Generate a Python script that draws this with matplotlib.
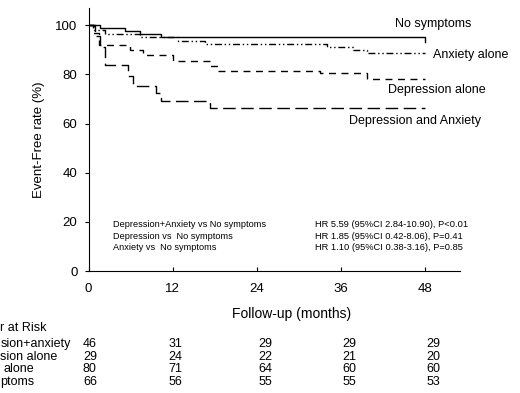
import matplotlib
matplotlib.use("Agg")
import matplotlib.pyplot as plt
import matplotlib.transforms as mtransforms

plt.rcParams['font.family'] = ['Liberation Sans', 'DejaVu Sans']

# Kaplan-Meier step curves (months, event-free %)
t_none = [0, 1.6, 5.2, 7.3, 10.4, 48]
s_none = [100, 99.0, 97.7, 96.3, 95.2, 93.0]

t_anx = [0, 0.8, 2.3, 7.3, 12.8, 16.6, 34, 37.8, 39.8, 48]
s_anx = [100, 98.0, 96.5, 95.2, 93.5, 92.5, 91.2, 89.8, 88.5, 88.5]

t_dep = [0, 0.6, 1.5, 5.9, 7.8, 12.0, 17.4, 18.5, 33, 39.8, 48]
s_dep = [100, 97.0, 92.0, 90.0, 88.0, 85.3, 83.3, 81.3, 80.5, 78.3, 78.3]

t_both = [0, 0.9, 1.6, 2.4, 5.6, 6.3, 9.6, 10.4, 17.4, 48]
s_both = [100, 95.5, 91.0, 84.0, 79.5, 75.2, 72.5, 69.3, 66.5, 66.5]

curve_labels = ["No symptoms", "Anxiety alone", "Depression alone", "Depression and Anxiety"]

stat_names = ["Depression+Anxiety vs No symptoms",
              "Depression vs  No symptoms",
              "Anxiety vs  No symptoms"]
stat_values = ["HR 5.59 (95%CI 2.84-10.90), P<0.01",
               "HR 1.85 (95%CI 0.42-8.06), P=0.41",
               "HR 1.10 (95%CI 0.38-3.16), P=0.85"]

# the row labels are cropped by the left edge of the scan; keep what is visible
risk_title = "r at Risk"
risk_groups = ["sion+anxiety", "sion alone", "alone", "ptoms"]
risk_both = [46, 31, 29, 29, 29]
risk_dep = [29, 24, 22, 21, 20]
risk_anx = [80, 71, 64, 60, 60]
risk_none = [66, 56, 55, 55, 53]

W, H = 520, 393
fig = plt.figure(figsize=(5.2, 3.93), dpi=100)
ax = fig.add_axes([88.5 / W, 1 - 271 / H, (460 - 88.5) / W, (271 - 8) / H])

lw = 1.0
ax.step(t_none, s_none, where='post', color='black', lw=lw, linestyle='-')
ax.step(t_anx, s_anx, where='post', color='black', lw=lw, linestyle=(0, (5, 2, 1, 2, 1, 2)))
ax.step(t_dep, s_dep, where='post', color='black', lw=lw, linestyle=(0, (5, 4)))
ax.step(t_both, s_both, where='post', color='black', lw=lw, linestyle=(0, (9, 4)))

ax.set_xlim(0, 53)
ax.set_ylim(0, 107)
ax.set_xticks([0, 12, 24, 36, 48])
ax.set_yticks([0, 20, 40, 60, 80, 100])
ax.spines['top'].set_visible(False)
ax.spines['right'].set_visible(False)
ax.tick_params(axis='x', direction='in', length=3, pad=9, labelsize=9.5)
ax.tick_params(axis='y', direction='out', length=3, pad=5, labelsize=9.5)

ax.set_ylabel("Event-Free rate (%)", fontsize=9.5, labelpad=7)
fig.text(292 / W, 1 - 314 / H, "Follow-up (months)", ha='center', va='center', fontsize=10)

# curve labels
lab_pos = [(433, 24), (471, 55), (437, 90), (415, 121)]
for name, (px, py) in zip(curve_labels, lab_pos):
    fig.text(px / W, 1 - py / H, name, ha='center', va='center', fontsize=9)

# hazard ratio block
for i, (a, b) in enumerate(zip(stat_names, stat_values)):
    yy = 1 - (225 + i * 11) / H
    fig.text(113 / W, yy, a, ha='left', va='center', fontsize=6.6)
    fig.text(315 / W, yy, b, ha='left', va='center', fontsize=6.65)

# number at risk table
fig.text(0.5 / W, 1 - 328 / H, risk_title, ha='left', va='center', fontsize=9)
trans = mtransforms.blended_transform_factory(ax.transData, fig.transFigure)
col_x = [0.2, 12.4, 25.2, 37.2, 49.2]
rows = [risk_both, risk_dep, risk_anx, risk_none]
row_y = [344, 357, 369, 382]
row_x = [0.5, 0.5, 4, 0.5]
for name, vals, px, py in zip(risk_groups, rows, row_x, row_y):
    fig.text(px / W, 1 - py / H, name, ha='left', va='center', fontsize=9)
    for cx, v in zip(col_x, vals):
        ax.text(cx, 1 - py / H, str(v), transform=trans, ha='center', va='center',
                fontsize=9, clip_on=False)

fig.savefig("out.png", dpi=100)
